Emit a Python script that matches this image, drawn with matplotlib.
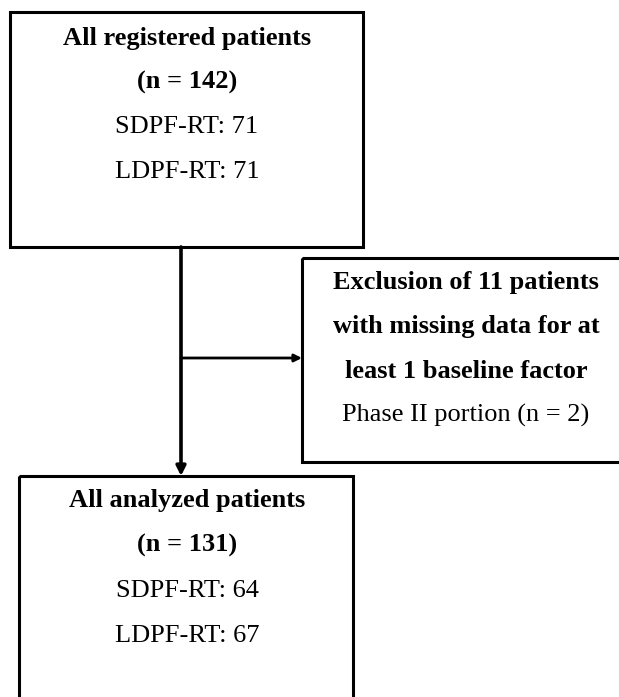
import matplotlib
matplotlib.use("Agg")
import matplotlib.pyplot as plt
from matplotlib.patches import Rectangle

# ---- content ----
box1_bold = ["All registered patients", "(n = 142)"]
box1_plain = ["SDPF-RT: 71", "LDPF-RT: 71"]
box2_bold = ["Exclusion of 11 patients", "with missing data for at", "least 1 baseline factor"]
box2_plain = ["Phase II portion (n = 2)"]
box3_bold = ["All analyzed patients", "(n = 131)"]
box3_plain = ["SDPF-RT: 64", "LDPF-RT: 67"]

# ---- layout (pixel coordinates, y downward) ----
W, H = 619, 697
fig = plt.figure(figsize=(W / 100, H / 100), dpi=100)
ax = fig.add_axes([0, 0, 1, 1])
ax.set_xlim(0, W)
ax.set_ylim(H, 0)
ax.axis("off")

FONT = "Liberation Serif"
FS = 19
LW = 2.2


def box(x0, y0, x1, y1):
    ax.add_patch(Rectangle((x0, y0), x1 - x0, y1 - y0, fill=False,
                           edgecolor="black", linewidth=LW, clip_on=True))


def lines(cx, y_first, step, bold, plain):
    y = y_first
    for t in bold:
        ax.text(cx, y, t, ha="center", va="center", fontsize=FS,
                fontfamily=FONT, fontweight="bold")
        y += step
    for t in plain:
        ax.text(cx, y, t, ha="center", va="center", fontsize=FS,
                fontfamily=FONT)
        y += step


# Box 1
box(10, 12, 363, 247)
lines(187, 38, 44.5, box1_bold, box1_plain)

# Box 2 (extends past right edge)
box(302, 258, 660, 462)
lines(466, 283, 44, box2_bold, box2_plain)

# Box 3 (extends past bottom edge)
box(19, 476, 353, 740)
lines(187, 500, 45.5, box3_bold, box3_plain)

# Connectors
ax.annotate("", xy=(181, 476), xytext=(181, 247),
            arrowprops=dict(arrowstyle="-|>", color="black", lw=2.6,
                            mutation_scale=14, shrinkA=0, shrinkB=0))
ax.annotate("", xy=(302, 358), xytext=(181, 358),
            arrowprops=dict(arrowstyle="-|>", color="black", lw=2.0,
                            mutation_scale=11, shrinkA=0, shrinkB=0))

fig.savefig("out.png", dpi=100, facecolor="white")
